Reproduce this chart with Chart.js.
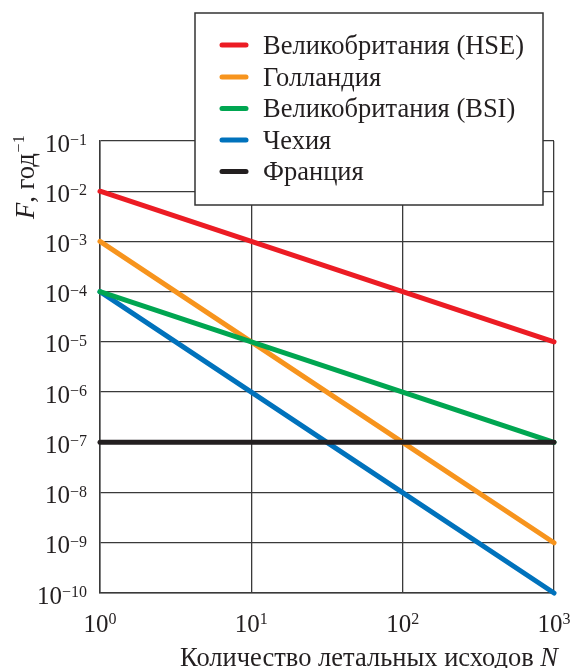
<!DOCTYPE html>
<html>
<head>
<meta charset="utf-8">
<script src="https://cdn.jsdelivr.net/npm/chart.js@4/dist/chart.umd.min.js"></script>
<style>
  html, body { margin: 0; padding: 0; background: #ffffff; }
  #wrap { width: 573px; height: 668px; }
</style>
</head>
<body>
<div id="wrap"><canvas id="c" width="573" height="668"></canvas></div>
<script>
// ---- data ----
const nValues = [1, 10, 100, 1000];
const seriesLabels = ['Великобритания (HSE)', 'Голландия', 'Великобритания (BSI)', 'Чехия', 'Франция'];
const ukHSE = [1e-2, 1e-3, 1e-4, 1e-5];
const netherlands = [1e-3, 1e-5, 1e-7, 1e-9];
const ukBSI = [1e-4, 1e-5, 1e-6, 1e-7];
const czech = [1e-4, 1e-6, 1e-8, 1e-10];
const france = [1e-7, 1e-7, 1e-7, 1e-7];
const xTickExponents = [0, 1, 2, 3];
const yTickExponents = [-1, -2, -3, -4, -5, -6, -7, -8, -9, -10];
const xTitle = 'Количество летальных исходов ';
const xTitleVar = 'N';
const yTitle = ', год';
const yTitleVar = 'F';
const yTitleExp = '−1';

const colors = ['#ec1c24', '#f7941d', '#00a651', '#0072bc', '#231f20'];
const allSeries = [ukHSE, netherlands, ukBSI, czech, france];
const drawOrder = [1, 3, 2, 4, 0];

const datasets = allSeries.map((arr, i) => ({
  label: seriesLabels[i],
  data: arr.map((v, j) => ({ x: nValues[j], y: v })),
  borderColor: colors[i],
  backgroundColor: colors[i],
  borderWidth: 5,
  pointRadius: 0,
  borderCapStyle: 'round',
  tension: 0,
  clip: false,
  order: drawOrder[i]
}));

const SERIF = '"Liberation Serif", "Times New Roman", serif';
const MINUS = '−';
const BIG = '26.5px ';

function expStr(e) { return e < 0 ? MINUS + Math.abs(e) : String(e); }

const customText = {
  id: 'customText',
  afterDraw(chart) {
    const ctx = chart.ctx;
    const xs = chart.scales.x, ys = chart.scales.y;
    ctx.save();
    ctx.fillStyle = '#231f20';
    // y tick labels
    yTickExponents.forEach(e => {
      const y = ys.getPixelForValue(Math.pow(10, e));
      const es = expStr(e);
      ctx.font = '16px ' + SERIF;
      const ew = ctx.measureText(es).width;
      const right = 87;
      ctx.textAlign = 'left';
      ctx.textBaseline = 'alphabetic';
      ctx.fillText(es, right - ew, y + 4);
      ctx.font = '25px ' + SERIF;
      ctx.textAlign = 'right';
      ctx.fillText('10', right - ew, y + 10.5);
    });
    // x tick labels
    xTickExponents.forEach(e => {
      const x = xs.getPixelForValue(Math.pow(10, e));
      const es = expStr(e);
      ctx.font = '16px ' + SERIF;
      const ew = ctx.measureText(es).width;
      ctx.font = '25px ' + SERIF;
      const bw = ctx.measureText('10').width;
      const start = x - (bw + ew) / 2;
      ctx.textAlign = 'left';
      ctx.textBaseline = 'alphabetic';
      ctx.fillText('10', start, 632);
      ctx.font = '16px ' + SERIF;
      ctx.fillText(es, start + bw, 624);
    });
    // x title
    ctx.font = BIG + SERIF;
    const tw = ctx.measureText(xTitle).width;
    ctx.font = 'italic ' + BIG + SERIF;
    const nw = ctx.measureText(xTitleVar).width;
    const endX = 558;
    const sx = endX - tw - nw;
    ctx.textAlign = 'left';
    ctx.font = BIG + SERIF;
    ctx.fillText(xTitle, sx, 666);
    ctx.font = 'italic ' + BIG + SERIF;
    ctx.fillText(xTitleVar, sx + tw, 666);
    // y title (rotated)
    ctx.save();
    ctx.translate(34, 219);
    ctx.rotate(-Math.PI / 2);
    ctx.font = 'italic ' + BIG + SERIF;
    ctx.fillText(yTitleVar, 0, 0);
    const fw = ctx.measureText(yTitleVar).width;
    ctx.font = BIG + SERIF;
    ctx.fillText(yTitle, fw, 0);
    const gw = ctx.measureText(yTitle).width;
    ctx.font = '16px ' + SERIF;
    ctx.fillText(yTitleExp, fw + gw + 1, -10);
    ctx.restore();

    // legend box
    const bx = 195, by = 13, bw2 = 348, bh = 192;
    ctx.fillStyle = '#ffffff';
    ctx.fillRect(bx, by, bw2, bh);
    ctx.strokeStyle = '#333333';
    ctx.lineWidth = 1.5;
    ctx.strokeRect(bx, by, bw2, bh);
    const rows = [45, 77, 108.5, 140, 171.5];
    chart.data.datasets.forEach((ds, i) => {
      const ry = rows[i];
      ctx.strokeStyle = ds.borderColor;
      ctx.lineWidth = 5;
      ctx.lineCap = 'round';
      ctx.beginPath();
      ctx.moveTo(222, ry);
      ctx.lineTo(246, ry);
      ctx.stroke();
      ctx.fillStyle = '#231f20';
      ctx.font = BIG + SERIF;
      ctx.textAlign = 'left';
      ctx.textBaseline = 'alphabetic';
      ctx.fillText(ds.label, 263, ry + 8.5);
    });
    ctx.restore();
  }
};

function decadeTicks(exps) {
  return scale => { scale.ticks = exps.map(e => ({ value: Math.pow(10, e) })); };
}

new Chart(document.getElementById('c'), {
  type: 'line',
  data: { datasets },
  options: {
    responsive: false,
    animation: false,
    devicePixelRatio: 1,
    layout: { padding: { left: 100, right: 19, top: 141, bottom: 75 } },
    plugins: { legend: { display: false }, tooltip: { enabled: false } },
    scales: {
      x: {
        type: 'logarithmic', min: 1, max: 1000, position: 'bottom',
        afterBuildTicks: decadeTicks(xTickExponents),
        ticks: { display: false },
        grid: { color: '#3a3a3a', lineWidth: 1.3, drawTicks: false },
        border: { display: true, color: '#3a3a3a', width: 1.5 }
      },
      y: {
        type: 'logarithmic', min: 1e-10, max: 1e-1, position: 'left',
        afterBuildTicks: decadeTicks(yTickExponents),
        ticks: { display: false },
        grid: { color: '#3a3a3a', lineWidth: 1.3, drawTicks: false },
        border: { display: true, color: '#3a3a3a', width: 1.5 }
      }
    }
  },
  plugins: [customText]
});
</script>
</body>
</html>
